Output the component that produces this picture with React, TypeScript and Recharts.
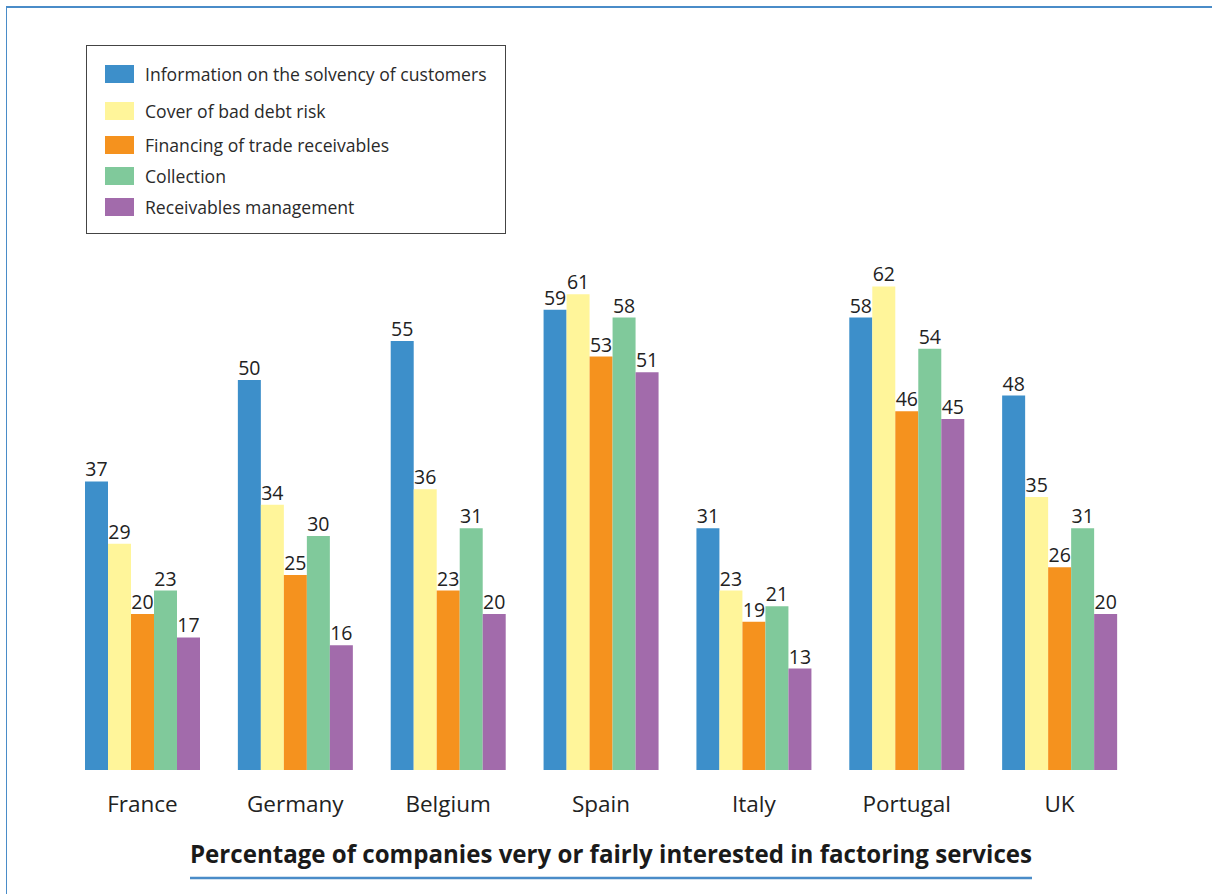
import React from 'react';
import { BarChart, Bar, XAxis, YAxis, LabelList } from 'recharts';

const countries = ['France', 'Germany', 'Belgium', 'Spain', 'Italy', 'Portugal', 'UK'];
const solvencyInfo = [37, 50, 55, 59, 31, 58, 48];
const badDebtCover = [29, 34, 36, 61, 23, 62, 35];
const financing = [20, 25, 23, 53, 19, 46, 26];
const collection = [23, 30, 31, 58, 21, 54, 31];
const receivablesMgmt = [17, 16, 20, 51, 13, 45, 20];

const seriesNames = [
  'Information on the solvency of customers',
  'Cover of bad debt risk',
  'Financing of trade receivables',
  'Collection',
  'Receivables management',
];
const seriesKeys = ['solvency', 'cover', 'financing', 'collection', 'management'];
const seriesColors = ['#3d8fca', '#fff59a', '#f5921e', '#80c99b', '#a26bab'];
const titleText = 'Percentage of companies very or fairly interested in factoring services';

const data = countries.map((c, i) => ({
  country: c,
  solvency: solvencyInfo[i],
  cover: badDebtCover[i],
  financing: financing[i],
  collection: collection[i],
  management: receivablesMgmt[i],
}));

const FONT = '"Open Sans", "DejaVu Sans", sans-serif';
const legendRowTops = [19, 56, 90, 121, 152];

const LegendBox = () => (
  <div
    style={{
      position: 'absolute',
      left: 86,
      top: 45,
      width: 418,
      height: 187,
      border: '1px solid #444',
      background: '#fff',
      fontFamily: FONT,
    }}
  >
    {seriesNames.map((n, i) => (
      <div key={n} style={{ position: 'absolute', left: 18, top: legendRowTops[i], height: 18, display: 'flex', alignItems: 'center' }}>
        <div style={{ width: 29, height: 18, background: seriesColors[i] }} />
        <span style={{ marginLeft: 11, fontSize: 17.6, color: '#2a2a2a', whiteSpace: 'nowrap' }}>{n}</span>
      </div>
    ))}
  </div>
);

export default function App() {
  return (
    <div style={{ position: 'absolute', left: 0, top: 0, width: 1212, height: 894, background: '#fff', overflow: 'hidden' }}>
      <div style={{ position: 'absolute', left: 6, top: 6, width: 1212, height: 900, borderTop: '2px solid #4a8cc8', borderLeft: '1.5px solid #4a8cc8' }} />
      <BarChart
        width={1212}
        height={894}
        data={data}
        margin={{ top: 224, right: 76, bottom: 94, left: 66 }}
        barGap={0}
        style={{ position: 'absolute', left: 0, top: 0 }}
      >
        <XAxis
          dataKey="country"
          axisLine={false}
          tickLine={false}
          tickMargin={20}
          interval={0}
          height={30}
          tick={{ fontSize: 22.5, fill: '#222', fontFamily: FONT }}
        />
        <YAxis hide domain={[0, 70]} />
        {seriesKeys.map((k, i) => (
          <Bar key={k} dataKey={k} name={seriesNames[i]} fill={seriesColors[i]} barSize={23} isAnimationActive={false}>
            <LabelList dataKey={k} position="top" offset={5} fontSize={19.5} fill="#222" fontFamily={FONT} />
          </Bar>
        ))}
      </BarChart>
      <LegendBox />
      <svg width={1212} height={894} style={{ position: 'absolute', left: 0, top: 0, pointerEvents: 'none' }}>
        <text
          x={611}
          y={863}
          textAnchor="middle"
          textLength={842}
          lengthAdjust="spacingAndGlyphs"
          style={{ fontSize: 25, fontWeight: 700, fill: '#1a1a1a', fontFamily: FONT }}
        >
          {titleText}
        </text>
        <line x1={190} x2={1032} y1={878} y2={878} stroke="#4a8cc8" strokeWidth={2.5} />
      </svg>
    </div>
  );
}
